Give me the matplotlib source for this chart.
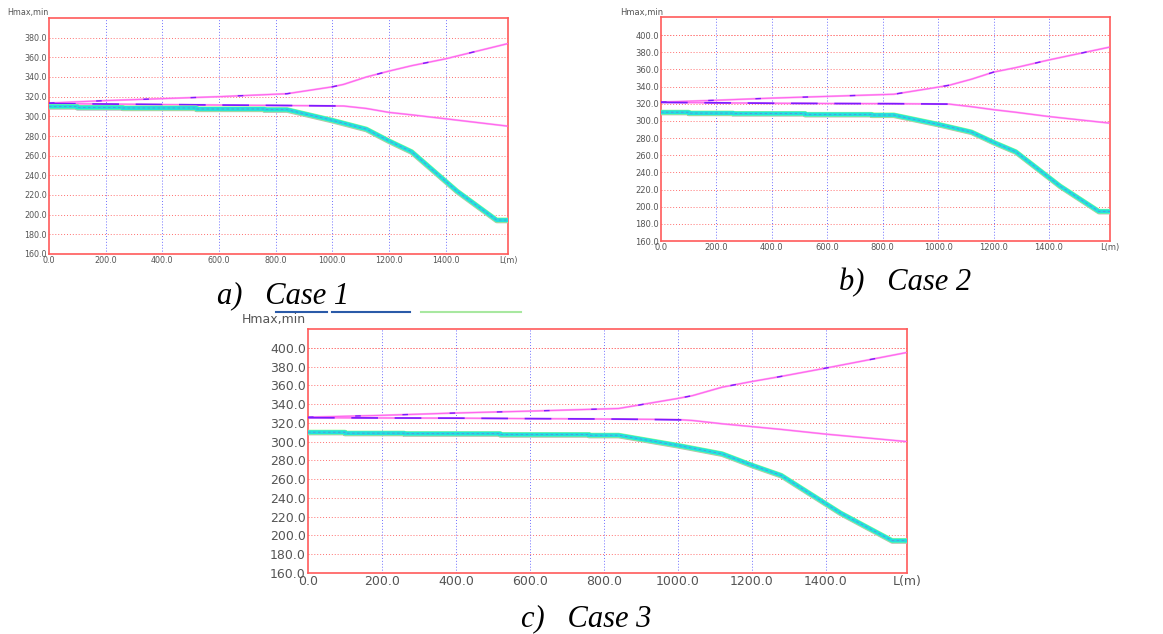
import matplotlib
matplotlib.use("Agg")
import matplotlib.pyplot as plt
from matplotlib.lines import Line2D

# ---------------- data ----------------
L_max = 1620.0

# piezometric envelope grid (m)
L_env = [0, 200, 400, 600, 840, 1000, 1040, 1120, 1200, 1280, 1400, 1620]

hmax_case1 = [313.5, 316.0, 318.0, 320.0, 323.0, 330.0, 332.5, 340.0, 346.0, 351.5, 358.5, 374.0]
hmin_case1 = [313.0, 312.5, 312.0, 311.5, 311.0, 310.6, 310.5, 308.0, 304.0, 301.5, 297.5, 290.0]

hmax_case2 = [321.8, 324.0, 326.5, 328.5, 331.0, 339.3, 341.5, 348.5, 356.8, 362.0, 371.0, 386.0]
hmin_case2 = [321.5, 321.0, 320.5, 320.2, 320.0, 319.6, 319.5, 316.5, 313.0, 310.0, 305.0, 297.3]

hmax_case3 = [326.0, 328.0, 330.5, 332.5, 335.3, 346.0, 349.0, 358.0, 364.0, 369.5, 378.3, 395.0]
hmin_case3 = [325.5, 325.2, 325.0, 324.5, 324.0, 323.5, 322.5, 319.0, 316.0, 313.0, 308.0, 300.0]

# initial steady-state head (purple overlay on flat part)
L_init = [0, 200, 400, 600, 840, 1040]
hinit_case1 = [313.0, 312.5, 312.0, 311.5, 311.0, 310.5]
hinit_case2 = [321.5, 321.0, 320.5, 320.2, 320.0, 319.5]
hinit_case3 = [325.5, 325.2, 325.0, 324.5, 324.0, 323.0]

# pipe / ground profile (same in all cases)
L_pipe = [0, 100, 100, 260, 260, 520, 520, 760, 760, 840, 1000, 1120, 1200, 1280, 1440, 1580, 1620]
h_pipe = [310.0, 310.0, 309.0, 309.0, 308.5, 308.5, 307.5, 307.5, 306.8, 306.8, 296.0, 287.0, 275.0, 264.0, 224.0, 194.5, 194.5]

x_ticks = [0, 200, 400, 600, 800, 1000, 1200, 1400]
x_labels = ["0.0", "200.0", "400.0", "600.0", "800.0", "1000.0", "1200.0", "1400.0"]

cases = [
    dict(name="a)   Case 1", hmax=hmax_case1, hmin=hmin_case1, hinit=hinit_case1,
         ytop=400, yticks=[160, 180, 200, 220, 240, 260, 280, 300, 320, 340, 360, 380]),
    dict(name="b)   Case 2", hmax=hmax_case2, hmin=hmin_case2, hinit=hinit_case2,
         ytop=421, yticks=[160, 180, 200, 220, 240, 260, 280, 300, 320, 340, 360, 380, 400]),
    dict(name="c)   Case 3", hmax=hmax_case3, hmin=hmin_case3, hinit=hinit_case3,
         ytop=420, yticks=[160, 180, 200, 220, 240, 260, 280, 300, 320, 340, 360, 380, 400]),
]

# ---------------- layout ----------------
W, H = 1163, 634
fig = plt.figure(figsize=(W / 100, H / 100), dpi=100)
fig.patch.set_facecolor("white")

def frac(left, top, right, bottom):
    return [left / W, 1 - bottom / H, (right - left) / W, (bottom - top) / H]

axes_px = [
    (49, 18, 508, 254),
    (661, 17, 1110, 241),
    (308, 329, 907, 573),
]
font_sizes = [5.8, 6.0, 9.0]
ylabel_pos = [(7, 12), (620, 12), (242, 320)]
title_pos = [(283, 303), (905, 290), (586, 626)]

PINK = "#ff66ee"
PINK_LIGHT = "#ffb0f5"
PURPLE = "#7a1cff"
CYAN = "#22e0e0"
GREEN = "#88ff88"
GREY = "#b8b8b8"

for case, box, fs, ylp, tp in zip(cases, axes_px, font_sizes, ylabel_pos, title_pos):
    ax = fig.add_axes(frac(*box))
    ax.set_xlim(0, L_max)
    ax.set_ylim(160, case["ytop"])

    # grid
    for y in case["yticks"][1:]:
        ax.axhline(y, color="#ff7070", lw=0.7, ls=(0, (1, 2)), zorder=1)
    if case["ytop"] > 400:
        ax.axhline(400, color="#ff7070", lw=0.7, ls=(0, (1, 2)), zorder=1)
    for x in x_ticks[1:]:
        ax.axvline(x, color="#7070ff", lw=0.7, ls=(0, (1, 2)), zorder=1)

    # envelope lines
    ax.plot(L_env, case["hmax"], color=PINK_LIGHT, lw=1.5, zorder=2)
    ax.plot(L_env, case["hmax"], color=PINK, lw=0.8, zorder=3)
    ax.plot(L_env, case["hmax"], color=PURPLE, lw=1.0, ls=(0, (4, 30)), zorder=3.5)
    ax.plot(L_env, case["hmin"], color=PINK_LIGHT, lw=1.5, zorder=2)
    ax.plot(L_env, case["hmin"], color=PINK, lw=0.8, zorder=3)
    ax.plot(L_init, case["hinit"], color=PURPLE, lw=1.2, ls=(0, (16, 10)), zorder=3.5)

    # pipe profile
    ax.plot(L_pipe, [h - 1.0 for h in h_pipe], color=GREY, lw=3.2, zorder=4)
    ax.plot(L_pipe, h_pipe, color=GREEN, lw=3.6, zorder=4.5)
    ax.plot(L_pipe, h_pipe, color=CYAN, lw=2.8, zorder=5)
    ax.plot(L_pipe, h_pipe, color="#8a5ad0", lw=0.6, ls=(0, (3, 3)), alpha=0.6, zorder=6)

    for s in ax.spines.values():
        s.set_color("#ff5a5a")
        s.set_linewidth(1.2)

    ax.set_yticks(case["yticks"])
    ax.set_yticklabels([f"{v:.1f}" for v in case["yticks"]])
    ax.set_xticks(x_ticks + [L_max])
    ax.set_xticklabels(x_labels + ["L(m)"])
    ax.tick_params(length=0, labelsize=fs, colors="#555555", pad=1.5)
    ax.grid(False)

    fig.text(ylp[0] / W, 1 - ylp[1] / H, "Hmax,min", fontsize=fs, color="#555555",
             ha="left", va="center")
    fig.text(tp[0] / W, 1 - tp[1] / H, case["name"], fontsize=22,
             family="Liberation Serif", style="italic", ha="center", va="baseline",
             color="black")

# small stray segments under caption a)
fig.add_artist(Line2D([276 / W, 327 / W], [1 - 312 / H] * 2, color="#2a5aa8", lw=1.5))
fig.add_artist(Line2D([332 / W, 410 / W], [1 - 312 / H] * 2, color="#2a5aa8", lw=1.5))
fig.add_artist(Line2D([421 / W, 521 / W], [1 - 312 / H] * 2, color="#a8e8a0", lw=1.5))

fig.savefig("out.png", dpi=100)
